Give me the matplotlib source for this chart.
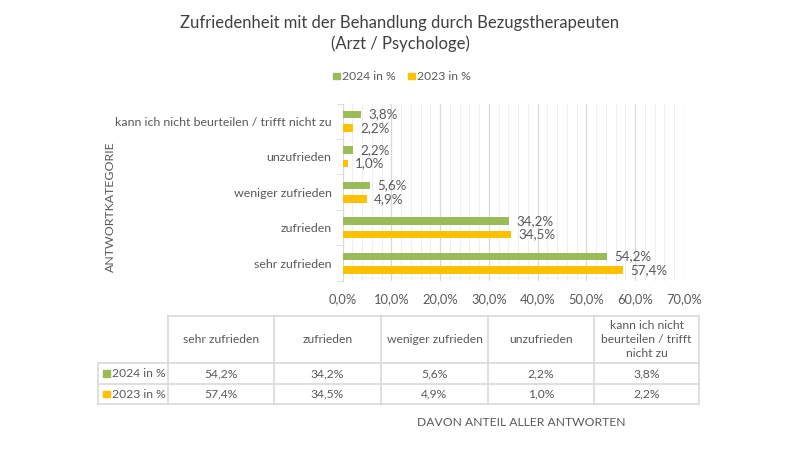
import matplotlib
matplotlib.use("Agg")
import matplotlib.pyplot as plt
import matplotlib.ticker as ticker
import numpy as np

plt.rcParams['font.family'] = ['Lato', 'DejaVu Sans']

# data
kategorien = ["sehr zufrieden", "zufrieden", "weniger zufrieden", "unzufrieden",
              "kann ich nicht beurteilen / trifft nicht zu"]
tab_kopf = ["sehr zufrieden", "zufrieden", "weniger zufrieden", "unzufrieden",
            "kann ich nicht\nbeurteilen / trifft\nnicht zu"]
werte_2024 = [54.2, 34.2, 5.6, 2.2, 3.8]
werte_2023 = [57.4, 34.5, 4.9, 1.0, 2.2]
serien = ["2024 in %", "2023 in %"]

gruen = "#9BBB59"
gelb = "#FFC000"
grau = "#595959"
linie = "#D9D9D9"


def fmt(v):
    return ("%.1f%%" % v).replace(".", ",")


fig = plt.figure(figsize=(8, 4.5), dpi=100)

ax = fig.add_axes([0.4284, 0.3756, 0.4266, 0.3944])
y = np.arange(len(kategorien))
h = 0.22
ax.barh(y - 0.19, werte_2023, height=h, color=gelb, zorder=3)
ax.barh(y + 0.19, werte_2024, height=h, color=gruen, zorder=3)
for i in range(len(kategorien)):
    ax.text(werte_2024[i] + 1.5, y[i] + 0.19, fmt(werte_2024[i]), va='center', ha='left',
            fontsize=9.6, color=grau)
    ax.text(werte_2023[i] + 1.5, y[i] - 0.19, fmt(werte_2023[i]), va='center', ha='left',
            fontsize=9.6, color=grau)

ax.set_xlim(0, 70)
ax.set_ylim(-0.5, len(kategorien) - 0.5)
ax.xaxis.set_major_locator(ticker.MultipleLocator(10))
ax.xaxis.set_minor_locator(ticker.MultipleLocator(2))
ax.xaxis.set_major_formatter(ticker.FuncFormatter(lambda x, pos: fmt(x)))
ax.grid(True, axis='x', which='major', color=linie, linewidth=0.9, zorder=0)
ax.grid(True, axis='x', which='minor', color="#EFEFEF", linewidth=0.8, zorder=0)
ax.set_yticks(y)
ax.set_yticklabels(kategorien)
ax.yaxis.set_minor_locator(ticker.FixedLocator(np.arange(-0.5, len(kategorien), 1.0)))
ax.tick_params(axis='y', which='major', length=0, pad=8, labelsize=8.9, labelcolor=grau)
ax.tick_params(axis='y', which='minor', length=4, color=linie)
ax.tick_params(axis='x', which='both', length=0, pad=9, labelsize=9.3, labelcolor=grau)
for s in ['top', 'right', 'bottom']:
    ax.spines[s].set_visible(False)
ax.spines['left'].set_color(linie)

# overlay in pixel coordinates for title, legend and table
ov = fig.add_axes([0, 0, 1, 1], zorder=-1)
ov.set_xlim(0, 800)
ov.set_ylim(450, 0)
ov.axis('off')

ov.text(400, 23, "Zufriedenheit mit der Behandlung durch Bezugstherapeuten",
        ha='center', va='center', fontsize=12, color="#404040")
ov.text(400, 44, "(Arzt / Psychologe)", ha='center', va='center', fontsize=12, color="#404040")

# legend
for x0, farbe, name in [(333, gruen, serien[0]), (408, gelb, serien[1])]:
    ov.add_patch(plt.Rectangle((x0, 72.5), 6.5, 6.5, color=farbe))
    ov.text(x0 + 9, 76, name, ha='left', va='center', fontsize=8.7, color=grau)

ov.text(110, 207, "ANTWORTKATEGORIE", rotation=90, ha='center', va='center',
        fontsize=8.9, color=grau)

# table
xs = [98, 168, 274, 381, 488, 594, 699]
ys = [316, 363, 384, 404]
ov.plot([xs[1], xs[-1]], [ys[0], ys[0]], color=linie, lw=1.2)
for yy in ys[1:]:
    ov.plot([xs[0], xs[-1]], [yy, yy], color=linie, lw=1.2)
ov.plot([xs[0], xs[0]], [ys[1], ys[-1]], color=linie, lw=1.2)
for xx in xs[1:]:
    ov.plot([xx, xx], [ys[0], ys[-1]], color=linie, lw=1.2)

for j, kopf in enumerate(tab_kopf):
    xc = (xs[j + 1] + xs[j + 2]) / 2
    ov.text(xc, (ys[0] + ys[1]) / 2, kopf, ha='center', va='center', fontsize=8.7,
            color=grau, linespacing=1.35)
    ov.text(xc, (ys[1] + ys[2]) / 2, fmt(werte_2024[j]), ha='center', va='center',
            fontsize=8.7, color=grau)
    ov.text(xc, (ys[2] + ys[3]) / 2, fmt(werte_2023[j]), ha='center', va='center',
            fontsize=8.7, color=grau)

for k, (farbe, name) in enumerate([(gruen, serien[0]), (gelb, serien[1])]):
    yc = (ys[k + 1] + ys[k + 2]) / 2
    ov.add_patch(plt.Rectangle((103, yc - 3.2), 6.5, 6.5, color=farbe))
    ov.text(112, yc, name, ha='left', va='center', fontsize=8.7, color=grau)

ov.text(521, 422, "DAVON ANTEIL ALLER ANTWORTEN", ha='center', va='center',
        fontsize=8.7, color=grau)

fig.savefig("out.png", dpi=100, facecolor='white')
